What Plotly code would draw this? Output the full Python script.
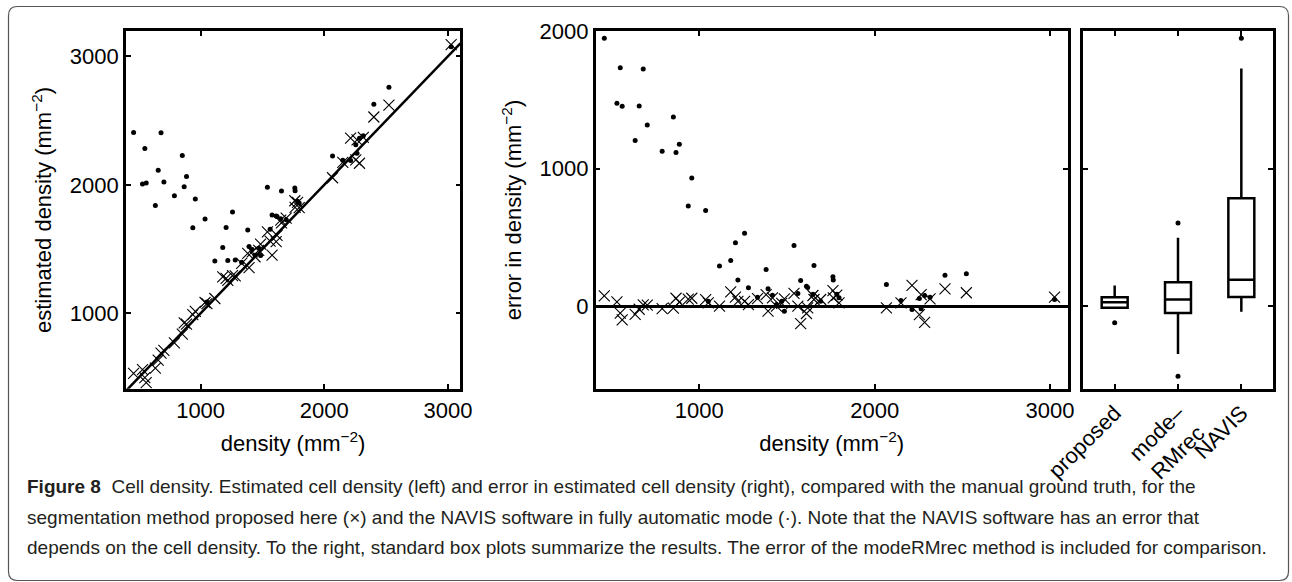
import plotly.graph_objects as go

# ---------------- data ----------------
density = [458, 530, 549, 560, 634, 657, 680, 703, 788, 852, 867, 886, 937, 957, 1036,
           1051, 1115, 1179, 1206, 1220, 1258, 1280, 1332, 1381, 1392, 1417, 1440, 1470,
           1485, 1540, 1562, 1578, 1611, 1618, 1648, 1654, 1692, 1762, 1764, 1784, 1797,
           2067, 2150, 2213, 2255, 2265, 2285, 2316, 2401, 2523, 3026]

err_proposed = [75, 32, -50, -100, -60, -22, 10, 8, -18, -14, 58, 30, 52, 58, 48,
                25, 0, 105, 66, 36, 36, 12, 56, 85, -36, 61, 0, 20,
                54, 93, 0, -126, -53, -12, 78, 49, 49, 114, 61, 80, 25,
                -12, 25, 151, -61, 85, -117, 54, 127, 98, 66]

err_navis = [1949, 1477, 1734, 1455, 1205, 1457, 1725, 1319, 1127, 1377, 1118, 1178, 729, 933, 697,
             36, 292, 333, 462, 190, 530, 134, 66, 267, 127, 80, 12, 36,
             -36, 442, 93, 187, 146, 136, 88, 297, 36, 214, 190, 88, 61,
             158, 42, -24, 56, -19, 78, 66, 226, 236, 49]

# estimated density = ground-truth density + error
est_proposed = [d + e for d, e in zip(density, err_proposed)]
est_navis = [d + e for d, e in zip(density, err_navis)]

# box plot summaries (error in density, mm^-2)
box_labels = ["proposed", "mode–<br>RMrec", "NAVIS"]
box_pos = [1, 2, 3]
box_q1 = [-12, -49, 68]
box_median = [29, 49, 192]
box_q3 = [66, 175, 785]
box_lower = [-12, -347, -41]
box_upper = [151, 498, 1730]
outlier_pos = [1, 2, 2, 3]
outlier_val = [-121, 605, -510, 1949]

# axis settings
left_x_range = [395, 3101]
left_y_range = [413, 3195]
mid_x_range = [409, 3101]
err_y_range = [-600, 2000]
ticks_density = [1000, 2000, 3000]
ticks_error = [0, 1000, 2000]

# ---------------- figure ----------------
W, H = 1292, 582
FONT = "Liberation Sans, Arial, Helvetica, sans-serif"


def fx(p):
    return p / W


def fy(p):
    return 1 - p / H


fig = go.Figure()

# identity line (left panel)
fig.add_trace(go.Scatter(x=left_x_range, y=left_x_range, mode="lines",
                         line=dict(color="black", width=2.5), xaxis="x", yaxis="y",
                         showlegend=False, hoverinfo="skip"))
fig.add_trace(go.Scatter(x=density, y=est_navis, mode="markers",
                         marker=dict(symbol="circle", size=5, color="black"),
                         xaxis="x", yaxis="y", showlegend=False))
fig.add_trace(go.Scatter(x=density, y=est_proposed, mode="markers",
                         marker=dict(symbol="x-thin", size=11, color="black",
                                     line=dict(color="black", width=1.1)),
                         xaxis="x", yaxis="y", showlegend=False))

# error panel
fig.add_trace(go.Scatter(x=density, y=err_navis, mode="markers",
                         marker=dict(symbol="circle", size=5, color="black"),
                         xaxis="x2", yaxis="y2", showlegend=False))
fig.add_trace(go.Scatter(x=density, y=err_proposed, mode="markers",
                         marker=dict(symbol="x-thin", size=11, color="black",
                                     line=dict(color="black", width=1.1)),
                         xaxis="x2", yaxis="y2", showlegend=False))

# box plots
fig.add_trace(go.Box(x=box_pos, q1=box_q1, median=box_median, q3=box_q3,
                     lowerfence=box_lower, upperfence=box_upper,
                     width=0.41, whiskerwidth=0, fillcolor="white",
                     line=dict(color="black", width=2.5),
                     xaxis="x3", yaxis="y3", showlegend=False, boxpoints=False))
fig.add_trace(go.Scatter(x=outlier_pos, y=outlier_val, mode="markers",
                         marker=dict(symbol="circle", size=5, color="black"),
                         xaxis="x3", yaxis="y3", showlegend=False))

axis_common = dict(showline=True, linewidth=2.5, linecolor="black", mirror="ticks",
                   ticks="inside", ticklen=5, tickwidth=1.5, tickcolor="black",
                   showgrid=False, automargin=False,
                   tickfont=dict(family=FONT, size=22, color="black"))
title_font = dict(family=FONT, size=22, color="black")

ydom = [fy(388.7), fy(31.3)]

fig.update_layout(
    width=W, height=H,
    margin=dict(l=0, r=0, t=0, b=0, autoexpand=False),
    paper_bgcolor="white", plot_bgcolor="white",
    xaxis=dict(domain=[fx(125.8), fx(460.4)], range=left_x_range, tickvals=ticks_density,
               anchor="y", zeroline=False,
               title=dict(text="density (mm<sup>−2</sup>)", font=title_font, standoff=14),
               **axis_common),
    yaxis=dict(domain=ydom, range=left_y_range, tickvals=ticks_density, anchor="x",
               zeroline=False,
               title=dict(text="estimated density (mm<sup>−2</sup>)", font=title_font, standoff=12),
               **axis_common),
    xaxis2=dict(domain=[fx(595.7), fx(1067.7)], range=mid_x_range, tickvals=ticks_density,
                anchor="y2", zeroline=False,
                title=dict(text="density (mm<sup>−2</sup>)", font=title_font, standoff=14),
                **axis_common),
    yaxis2=dict(domain=ydom, range=err_y_range, tickvals=ticks_error, anchor="x2",
                title=dict(text="error in density (mm<sup>−2</sup>)", font=title_font, standoff=12),
                zeroline=True, zerolinewidth=2.5, zerolinecolor="black",
                **axis_common),
    xaxis3=dict(domain=[fx(1083), fx(1273)], range=[0.5, 3.5], tickvals=box_pos,
                ticktext=box_labels, tickangle=-45, anchor="y3", zeroline=False,
                **axis_common),
    yaxis3=dict(domain=ydom, range=err_y_range, tickvals=ticks_error, anchor="x3",
                showticklabels=False, zeroline=False, **axis_common),
)

# caption
cap_font = dict(family=FONT, size=19, color="#231f20")
caption = [
    "<b>Figure 8</b>  Cell density. Estimated cell density (left) and error in estimated cell density (right), compared with the manual ground truth, for the",
    "segmentation method proposed here (×) and the NAVIS software in fully automatic mode (·). Note that the NAVIS software has an error that",
    "depends on the cell density. To the right, standard box plots summarize the results. The error of the modeRMrec method is included for comparison.",
]
cap_y = [486, 517, 547]
for t, yy in zip(caption, cap_y):
    fig.add_annotation(text=t, xref="paper", yref="paper", x=fx(25), y=fy(yy),
                       xanchor="left", yanchor="middle", showarrow=False, font=cap_font)

# rounded frame
x0, x1, y0, y1, r = 8.5, 1288.5, 6.5, 580.5, 9
path = (f"M {fx(x0 + r)},{fy(y0)} L {fx(x1 - r)},{fy(y0)} Q {fx(x1)},{fy(y0)} {fx(x1)},{fy(y0 + r)} "
        f"L {fx(x1)},{fy(y1 - r)} Q {fx(x1)},{fy(y1)} {fx(x1 - r)},{fy(y1)} "
        f"L {fx(x0 + r)},{fy(y1)} Q {fx(x0)},{fy(y1)} {fx(x0)},{fy(y1 - r)} "
        f"L {fx(x0)},{fy(y0 + r)} Q {fx(x0)},{fy(y0)} {fx(x0 + r)},{fy(y0)} Z")
fig.add_shape(type="path", path=path, xref="paper", yref="paper",
              line=dict(color="#555555", width=1.2), layer="below")

fig.write_html("out.html", config={"displayModeBar": False},
               post_script="document.body.style.margin='0px';document.body.style.overflow='hidden';")
